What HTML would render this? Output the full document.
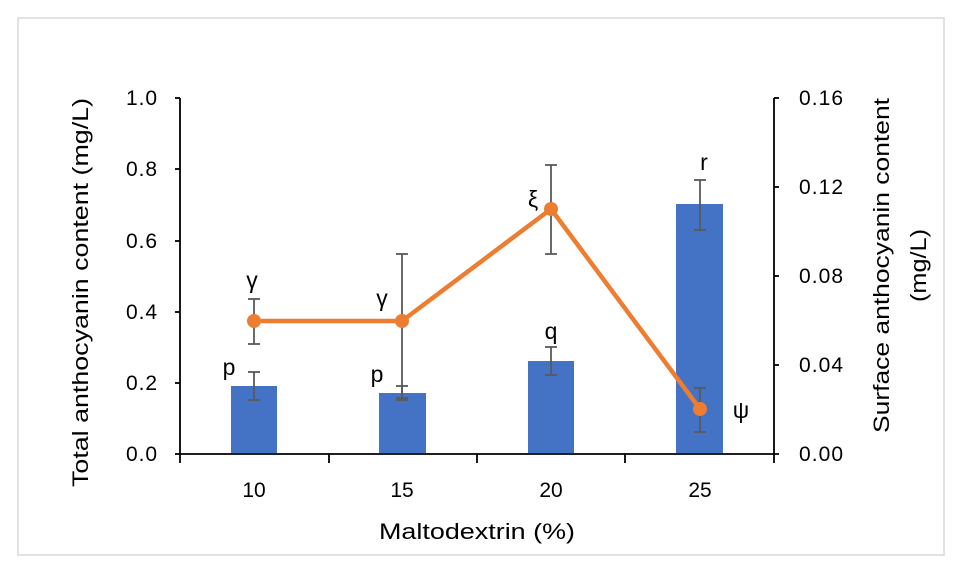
<!DOCTYPE html>
<html><head><style>body{margin:0;background:#fff}svg{display:block}</style></head>
<body>
<svg width="955" height="567" xmlns="http://www.w3.org/2000/svg" font-family="Liberation Sans, DejaVu Sans, sans-serif">
<rect x="18" y="18" width="926" height="537" fill="#fff" stroke="#d9d9d9" stroke-width="1.5"/>
<g fill="#4472c4">
<rect x="231" y="386" width="46" height="67"/>
<rect x="379" y="393" width="47" height="60"/>
<rect x="528" y="361" width="46" height="92"/>
<rect x="676" y="204" width="47" height="249"/>
</g>
<g stroke="#595959" stroke-width="1.8">
<line x1="254" y1="372" x2="254" y2="400"/><line x1="248" y1="372" x2="260" y2="372"/><line x1="248" y1="400" x2="260" y2="400"/>
<line x1="402" y1="386" x2="402" y2="400"/><line x1="396" y1="386" x2="408" y2="386"/><line x1="396" y1="400" x2="408" y2="400"/>
<line x1="551" y1="347" x2="551" y2="375"/><line x1="545" y1="347" x2="557" y2="347"/><line x1="545" y1="375" x2="557" y2="375"/>
<line x1="700" y1="180" x2="700" y2="230"/><line x1="694" y1="180" x2="706" y2="180"/><line x1="694" y1="230" x2="706" y2="230"/>
</g>
<g stroke="#000" stroke-width="1.8" fill="none">
<line x1="180" y1="98" x2="180" y2="463"/>
<line x1="774" y1="98" x2="774" y2="463"/>
<line x1="180" y1="454" x2="779" y2="454"/>
<line x1="175" y1="98" x2="180" y2="98"/><line x1="175" y1="169" x2="180" y2="169"/><line x1="175" y1="241" x2="180" y2="241"/><line x1="175" y1="312" x2="180" y2="312"/><line x1="175" y1="383" x2="180" y2="383"/><line x1="175" y1="454" x2="180" y2="454"/>
<line x1="774" y1="98" x2="779" y2="98"/><line x1="774" y1="187" x2="779" y2="187"/><line x1="774" y1="276" x2="779" y2="276"/><line x1="774" y1="365" x2="779" y2="365"/>
<line x1="329" y1="454" x2="329" y2="463"/><line x1="477" y1="454" x2="477" y2="463"/><line x1="625" y1="454" x2="625" y2="463"/>
</g>
<g stroke="#595959" stroke-width="1.8">
<line x1="254" y1="299" x2="254" y2="344"/><line x1="248" y1="299" x2="260" y2="299"/><line x1="248" y1="344" x2="260" y2="344"/>
<line x1="402" y1="254" x2="402" y2="398"/><line x1="396" y1="254" x2="408" y2="254"/><line x1="396" y1="398" x2="408" y2="398"/>
<line x1="551" y1="165" x2="551" y2="254"/><line x1="545" y1="165" x2="557" y2="165"/><line x1="545" y1="254" x2="557" y2="254"/>
<line x1="700" y1="388" x2="700" y2="432"/><line x1="694" y1="388" x2="706" y2="388"/><line x1="694" y1="432" x2="706" y2="432"/>
</g>
<polyline points="254,321 402,321 551,209 700,409" fill="none" stroke="#ed7d31" stroke-width="4.5" stroke-linejoin="round"/>
<g fill="#ed7d31"><circle cx="254" cy="321" r="7"/><circle cx="402" cy="321" r="7"/><circle cx="551" cy="209" r="7"/><circle cx="700" cy="409" r="7"/></g>
<g font-size="21" fill="#000" text-anchor="end">
<text x="157" y="105" textLength="31">1.0</text><text x="157" y="176" textLength="31">0.8</text><text x="157" y="248" textLength="31">0.6</text><text x="157" y="319" textLength="31">0.4</text><text x="157" y="390" textLength="31">0.2</text><text x="157" y="461" textLength="31">0.0</text>
</g>
<g font-size="21" fill="#000" text-anchor="start">
<text x="799" y="105" textLength="44">0.16</text><text x="799" y="194" textLength="44">0.12</text><text x="799" y="283" textLength="44">0.08</text><text x="799" y="372" textLength="44">0.04</text><text x="799" y="461" textLength="44">0.00</text>
</g>
<g font-size="21" fill="#000" text-anchor="middle">
<text x="254" y="497">10</text><text x="402" y="497">15</text><text x="551" y="497">20</text><text x="700" y="497">25</text>
</g>
<text x="379" y="539" font-size="22" textLength="196" lengthAdjust="spacingAndGlyphs">Maltodextrin (%)</text>
<text transform="translate(88,487) rotate(-90)" font-size="22" textLength="389" lengthAdjust="spacingAndGlyphs">Total anthocyanin content (mg/L)</text>
<text transform="translate(889,433) rotate(-90)" font-size="22" textLength="335" lengthAdjust="spacingAndGlyphs">Surface anthocyanin content</text>
<text transform="translate(926,302) rotate(-90)" font-size="22" textLength="73" lengthAdjust="spacingAndGlyphs">(mg/L)</text>
<g font-size="23" fill="#000" text-anchor="middle">
<text x="229" y="375">p</text><text x="377" y="382">p</text><text x="551" y="339">q</text><text x="704" y="170">r</text>
<text x="252" y="288">γ</text><text x="382" y="306">γ</text><text x="533" y="207">ξ</text><text x="741" y="418">ψ</text>
</g>
</svg>
</body></html>
